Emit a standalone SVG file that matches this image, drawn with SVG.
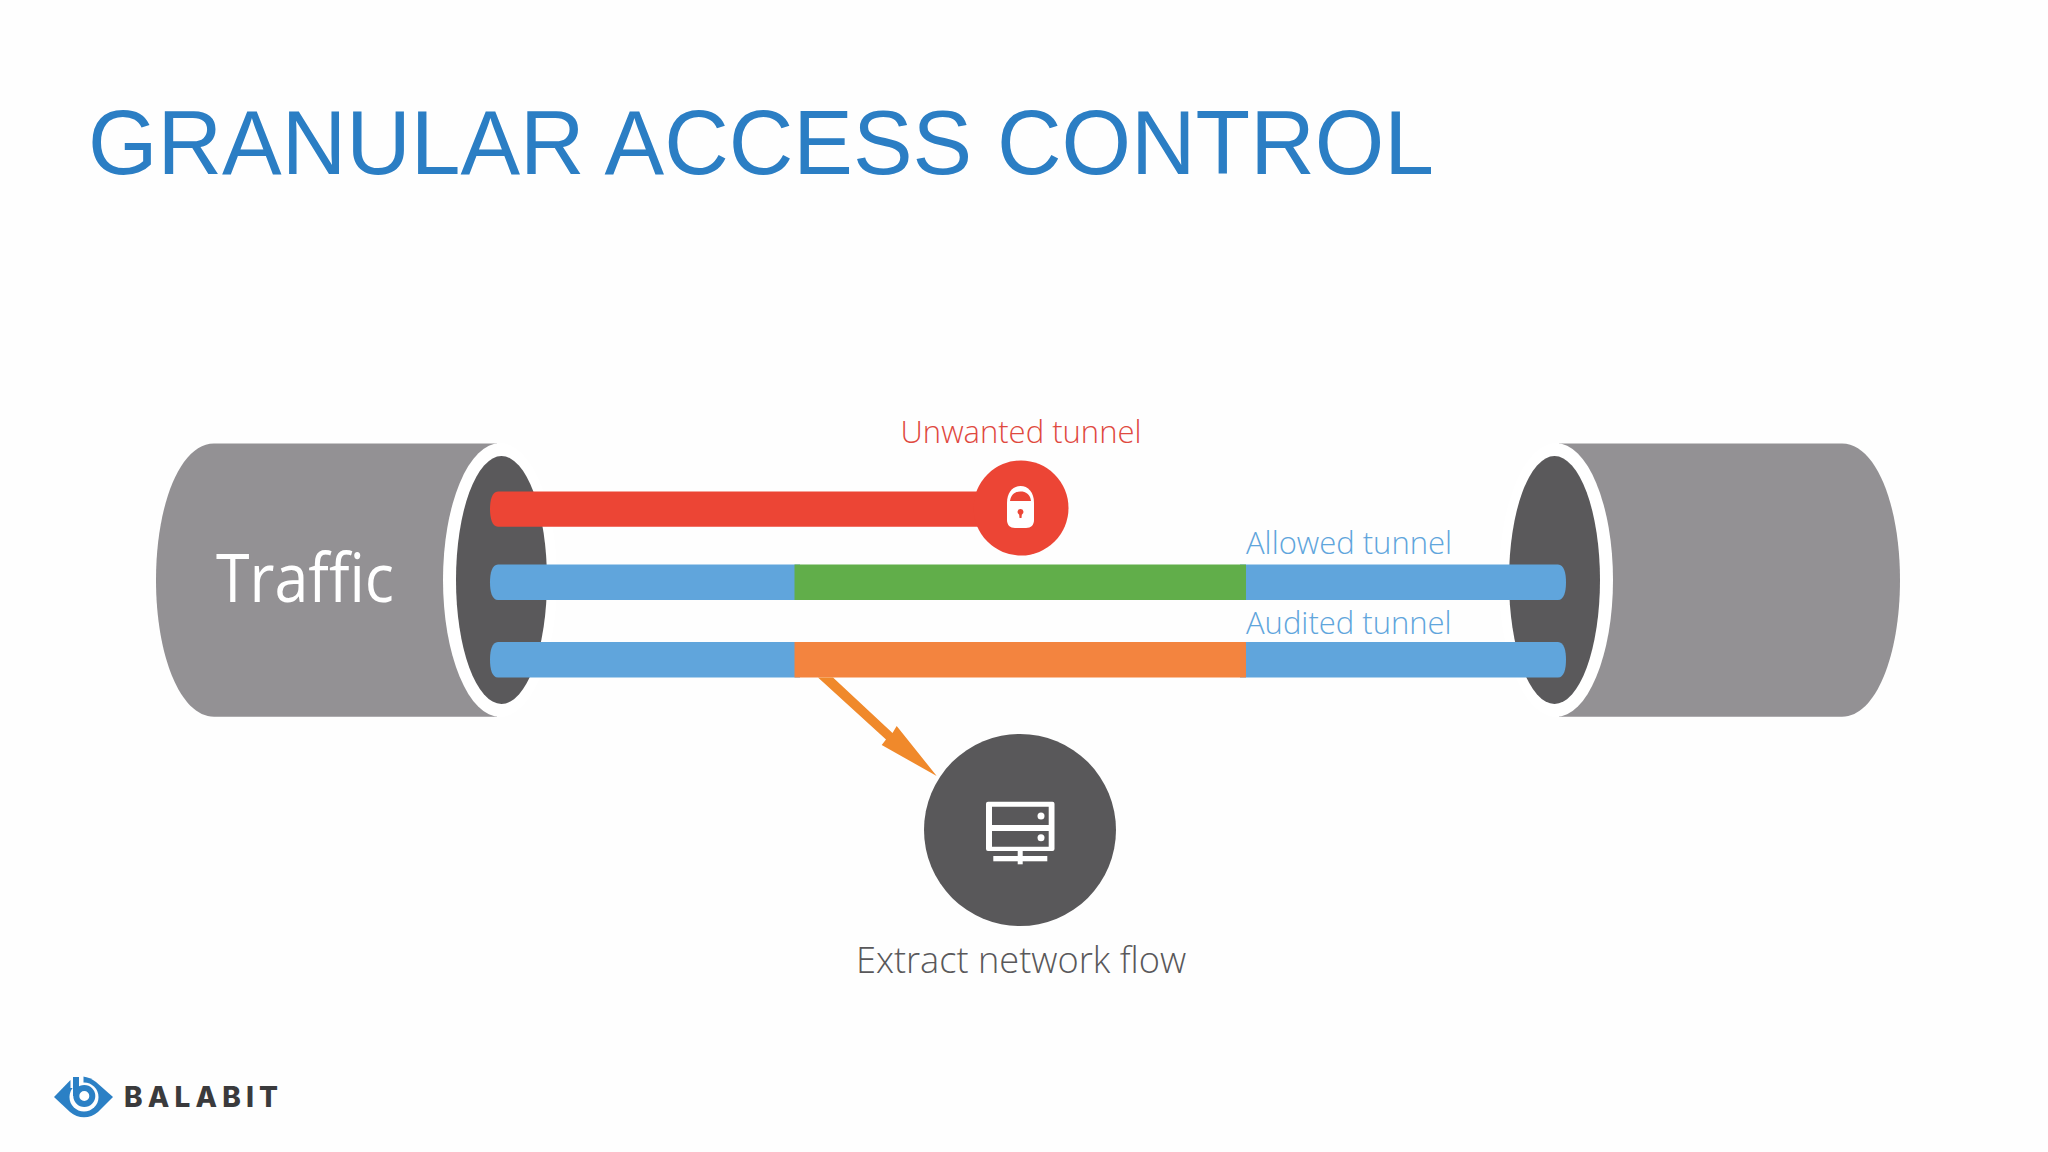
<svg xmlns="http://www.w3.org/2000/svg" width="2048" height="1152" viewBox="0 0 2048 1152">
<style>
.lbl{font-family:"Open Sans","Noto Sans","DejaVu Sans",sans-serif;font-weight:350;font-variant-ligatures:none}
.cyl{fill:#939194}
.hole{fill:#5A595B}
.rim{fill:#fff}
.blue{fill:#60A5DC}
.ic{fill:#fff}
.logo{fill:#2B80C5}
</style>
<rect width="2048" height="1152" fill="#FEFEFE"/>
<text id="title" x="88" y="174" font-family="'Liberation Sans',Arial,sans-serif" font-size="90" fill="#2B7EC4" textLength="1346" lengthAdjust="spacingAndGlyphs">GRANULAR ACCESS CONTROL</text>
<g id="cable-left">
<path class="cyl" d="M497,443.5H214C180,443.5 156,505 156,580C156,655 180,716.7 214,716.7H497Z"/>
<ellipse class="rim" cx="500" cy="580" rx="57" ry="137"/>
<ellipse class="hole" cx="501.5" cy="580" rx="45.5" ry="124"/>
<text class="lbl" x="216" y="602" font-size="68" fill="#fff" style="font-weight:400" textLength="178" lengthAdjust="spacingAndGlyphs">Traffic</text>
</g>
<g id="cable-right">
<path class="cyl" d="M1559,443.5H1842C1876,443.5 1900,505 1900,580C1900,655 1876,716.7 1842,716.7H1559Z"/>
<ellipse class="rim" cx="1556" cy="580" rx="57" ry="137"/>
<ellipse class="hole" cx="1554.5" cy="580" rx="45.5" ry="124"/>
</g>
<g id="connectors">
<path fill="#EC4535" d="M1021,491.5H498C492,491.5 490,500 490,509C490,518 492,526.7 498,526.7H1021Z"/>
<path class="blue" d="M800,564.5H498C492,564.5 490,573 490,582.2C490,591.5 492,600 498,600H800Z"/>
<path class="blue" d="M1240,564.5H1558C1564,564.5 1566,573 1566,582.2C1566,591.5 1564,600 1558,600H1240Z"/>
<rect x="794.5" y="564.5" width="451.5" height="35.5" fill="#61AE4A"/>
<path class="blue" d="M800,642H498C492,642 490,650.5 490,659.7C490,669 492,677.5 498,677.5H800Z"/>
<path class="blue" d="M1240,642H1558C1564,642 1566,650.5 1566,659.7C1566,669 1564,677.5 1558,677.5H1240Z"/>
<rect x="794.5" y="642" width="451.5" height="35.5" fill="#F3843F"/>
<path fill="#F0892B" d="M818,677.5L833,677.5L892.5,733L896.7,726L936.7,776L881.7,745L886,739.5Z"/>
</g>
<g id="unwanted-tunnel">
<circle cx="1021" cy="508" r="47.5" fill="#EC4535"/>
<path class="ic" d="M1007,503C1007,492 1013,486 1020.5,486C1028,486 1034,492 1034,503V520C1034,525 1031,528 1026,528H1015C1010,528 1007,525 1007,520Z"/>
<path fill="#EC4535" d="M1010,501C1011,494 1015,491.5 1020.5,491.5C1026,491.5 1030,494 1031,501Z"/>
<path fill="#EC4535" d="M1020.5,509a3,3 0 0 1 1.3,5.7L1021.5,518H1019.5L1019.2,514.7a3,3 0 0 1 1.3,-5.7Z"/>
<text class="lbl" x="1021" y="443" font-size="31" text-anchor="middle" fill="#E0493F">Unwanted tunnel</text>
</g>
<g id="allowed-tunnel">
<text class="lbl" x="1246" y="554" font-size="31" fill="#60A5DC">Allowed tunnel</text>
</g>
<g id="audited-tunnel">
<text class="lbl" x="1246" y="634" font-size="31" fill="#60A5DC">Audited tunnel</text>
</g>
<g id="extract-network-flow">
<circle cx="1020" cy="830" r="96" fill="#59585A"/>
<path class="ic" fill-rule="evenodd" d="M988,801.7H1052.5Q1054.5,801.7 1054.5,803.7V849Q1054.5,851 1052.5,851H988Q986,851 986,849V803.7Q986,801.7 988,801.7ZM992,806.7V825H1048.7V806.7ZM992,831V846.7H1048.7V831Z"/>
<circle class="ic" cx="1041" cy="816" r="3.5"/>
<circle class="ic" cx="1041" cy="837.7" r="3.5"/>
<rect class="ic" x="993.3" y="856" width="54" height="5.3"/>
<rect class="ic" x="1017.7" y="851" width="5" height="13.3"/>
<text class="lbl" x="1021" y="973" font-size="36.2" text-anchor="middle" fill="#59585A">Extract network flow</text>
</g>
<g id="balabit-logo">
<path class="logo" d="M54,1097L70,1080.5L71,1080L83,1076.5C88,1077 92,1079 96,1082L113,1097L98,1112C90,1119 78,1119 70,1112Z"/>
<circle cx="84" cy="1097" r="14.5" fill="#FEFEFE"/>
<rect x="70.5" y="1074" width="13" height="14" fill="#FEFEFE"/>
<path class="logo" d="M73,1077H79V1096H73Z"/>
<circle cx="84.3" cy="1096" r="8" fill="none" stroke="#2B80C5" stroke-width="6"/>
<text x="124" y="1107" font-family="Inter,'Open Sans',sans-serif" font-weight="800" font-size="28" letter-spacing="2" fill="#3A3A3C" textLength="156" lengthAdjust="spacing">BALABIT</text>
</g>
</svg>
